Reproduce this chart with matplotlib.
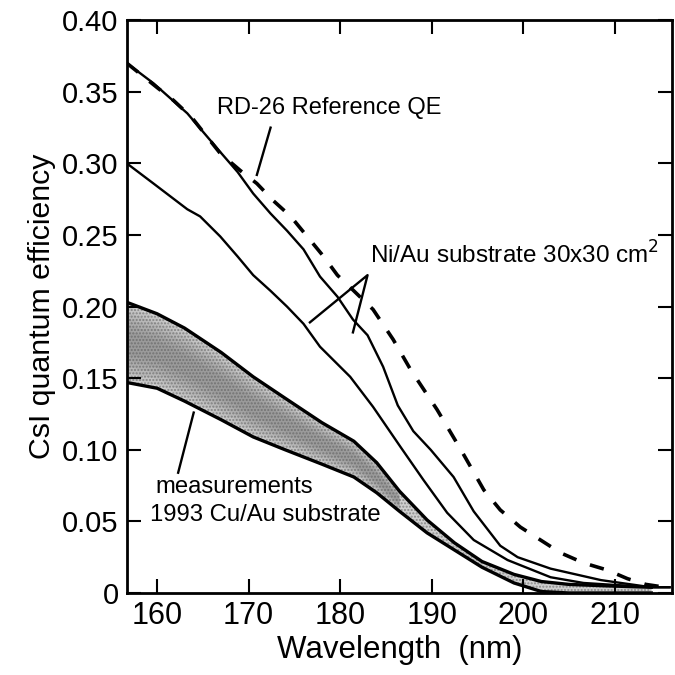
import numpy as np
import matplotlib
matplotlib.use('Agg')
import matplotlib.pyplot as plt
from matplotlib.ticker import FixedLocator, FixedFormatter

plt.rcParams['font.family'] = ['Liberation Sans', 'DejaVu Sans']

# RD-26 reference QE (dashed)
ref_x = [156.7, 160.0, 161.8, 163.8, 166.9, 169.1, 170.9, 172.7, 174.6, 176.4, 178.2,
         179.7, 181.5, 183.6, 185.8, 187.7, 190.6, 193.2, 195.7, 197.5, 199.7, 201.9,
         204.1, 206.6, 209.2, 211.4, 213.4, 215.5]
ref_y = [0.370, 0.353, 0.344, 0.332, 0.307, 0.295, 0.286, 0.274, 0.263, 0.249, 0.235,
         0.222, 0.211, 0.198, 0.177, 0.156, 0.128, 0.100, 0.072, 0.058, 0.046, 0.037,
         0.028, 0.021, 0.016, 0.010, 0.006, 0.004]

# Ni/Au substrate 30x30 cm2, upper curve
nia_x = [156.7, 159.6, 163.3, 166.9, 168.8, 170.5, 172.4, 174.2, 176.0, 177.8, 179.7,
         181.4, 183.0, 184.7, 186.3, 188.0, 189.9, 192.4, 194.6, 197.5, 199.4, 203.0,
         208.5, 214.0, 216.0]
nia_y = [0.370, 0.356, 0.335, 0.308, 0.294, 0.279, 0.265, 0.253, 0.240, 0.221, 0.207,
         0.191, 0.180, 0.158, 0.131, 0.113, 0.100, 0.081, 0.057, 0.033, 0.025, 0.017,
         0.009, 0.004, 0.004]

# Ni/Au substrate 30x30 cm2, lower curve
nib_x = [156.7, 159.6, 163.3, 164.7, 166.9, 168.8, 170.5, 172.4, 174.2, 176.0, 177.8,
         181.1, 183.6, 186.6, 189.1, 191.7, 194.6, 198.3, 203.0, 206.6, 214.0, 216.0]
nib_y = [0.300, 0.286, 0.268, 0.263, 0.249, 0.235, 0.222, 0.211, 0.200, 0.188, 0.172,
         0.151, 0.130, 0.102, 0.079, 0.056, 0.037, 0.023, 0.011, 0.007, 0.004, 0.004]

# 1993 Cu/Au substrate measurements (band)
band_x = [156.7, 160.0, 163.0, 167.0, 170.5, 174.0, 178.0, 181.5, 184.0, 186.5,
          189.5, 192.5, 195.5, 199.0, 202.0, 205.0, 209.0, 214.0]
band_top = [0.203, 0.195, 0.185, 0.168, 0.151, 0.136, 0.119, 0.106, 0.091, 0.071,
            0.051, 0.035, 0.022, 0.013, 0.008, 0.006, 0.005, 0.004]
band_bot = [0.147, 0.143, 0.134, 0.121, 0.109, 0.100, 0.090, 0.081, 0.070, 0.057,
            0.042, 0.030, 0.018, 0.007, 0.001, 0.000, 0.000, 0.000]

x_ticks = [160, 170, 180, 190, 200, 210]
y_ticks = [0, 0.05, 0.10, 0.15, 0.20, 0.25, 0.30, 0.35, 0.40]
y_tick_labels = ['0', '0.05', '0.10', '0.15', '0.20', '0.25', '0.30', '0.35', '0.40']

fig = plt.figure(figsize=(6.75, 6.75), dpi=100)
ax = fig.add_axes([0.188, 0.1215, 0.808, 0.8485])

# stippled measurement band: light overall, darker toward the middle
bx = np.array(band_x)
bt = np.array(band_top)
bb = np.array(band_bot)
ax.fill_between(bx, bb, bt, facecolor='#d0d0d0', edgecolor='none', zorder=1)
ax.fill_between(bx, bb, bt, facecolor='none', edgecolor='#8a8a8a', hatch='.....',
                linewidth=0, zorder=1)
mid = (bt + bb) / 2
half = (bt - bb) / 2
for k in [0.9, 0.75, 0.6, 0.45, 0.3]:
    ax.fill_between(bx[:10], (mid - k * half)[:10], (mid + k * half)[:10],
                    facecolor='#5a5a5a', edgecolor='none', alpha=0.11, zorder=1)
ax.plot(band_x, band_top, color='black', lw=2.4, zorder=3)
ax.plot(band_x, band_bot, color='black', lw=2.4, zorder=3)

ax.plot(nia_x, nia_y, color='black', lw=1.7, zorder=3)
ax.plot(nib_x, nib_y, color='black', lw=1.7, zorder=3)
ax.plot(ref_x, ref_y, color='black', lw=2.6, dashes=(4, 4), zorder=3)

# labels and pointer lines
ax.text(178.8, 0.339, 'RD-26 Reference QE', fontsize=17, ha='center', va='center')
ax.plot([172.4, 170.9], [0.325, 0.292], color='black', lw=1.7)

ax.text(183.3, 0.236, 'Ni/Au substrate 30x30 cm$^2$', fontsize=17.5, ha='left', va='center')
ax.plot([176.7, 183.0, 181.4], [0.189, 0.222, 0.182], color='black', lw=1.7)

ax.text(168.4, 0.074, 'measurements', fontsize=17.2, ha='center', va='center')
ax.text(171.8, 0.0545, '1993 Cu/Au substrate', fontsize=17.2, ha='center', va='center')
ax.plot([164.0, 162.3], [0.126, 0.084], color='black', lw=1.7)

ax.set_xlim(156.7, 216.3)
ax.set_ylim(0, 0.40)
ax.xaxis.set_major_locator(FixedLocator(x_ticks))
ax.yaxis.set_major_locator(FixedLocator(y_ticks))
ax.yaxis.set_major_formatter(FixedFormatter(y_tick_labels))
ax.tick_params(direction='in', length=10, width=1.5, top=True, right=True,
               labelsize=21, pad=6)
ax.tick_params(axis='x', labelsize=22)
for s in ax.spines.values():
    s.set_linewidth(2)

ax.set_xlabel('Wavelength  (nm)', fontsize=22.5, labelpad=3)
ax.set_ylabel('CsI quantum efficiency', fontsize=21.8, labelpad=4)

fig.savefig('out.png', dpi=100)
